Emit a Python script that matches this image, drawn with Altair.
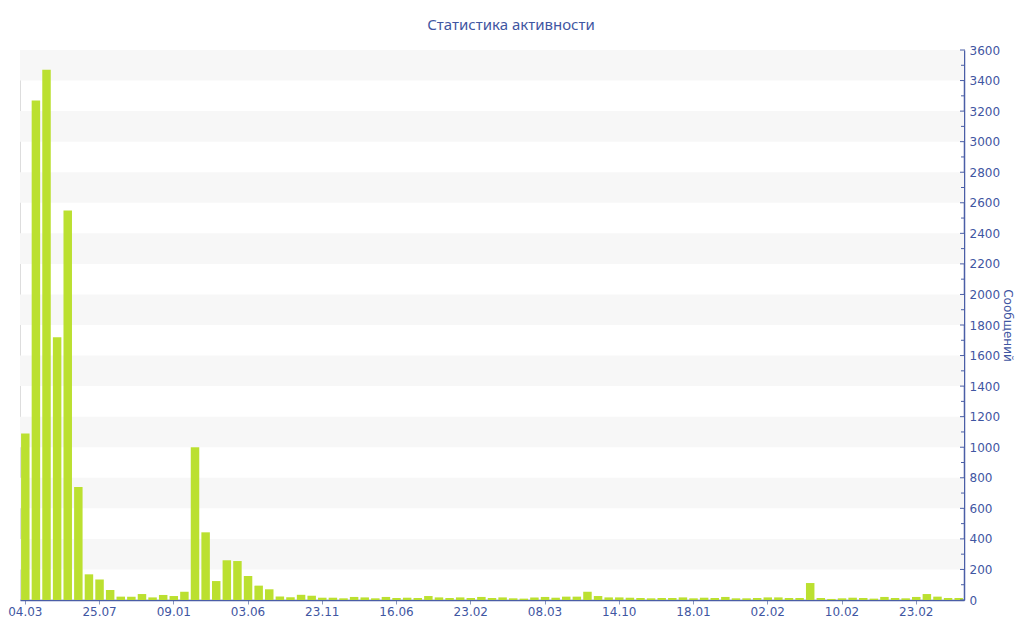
import json
import altair as alt
import pandas as pd

# Messages per period
values = [
    1090, 3270, 3470, 1720, 2550, 740, 168, 135, 65, 22, 22, 39, 17, 33,
    26, 54, 1000, 443, 124, 260, 255, 157, 94, 70, 23, 18, 34, 28,
    15, 15, 11, 20, 17, 11, 20, 13, 15, 13, 26, 17, 13, 17, 13, 20, 13, 17,
    11, 9, 17, 20, 15, 22, 22, 54, 26, 17, 17, 15, 13, 11, 13, 13, 17, 11, 15, 13, 20,
    11, 11, 13, 17, 17, 13, 13, 111, 13, 7, 11, 15, 13, 9, 20, 13, 11, 20, 39, 22, 13, 13,
]
tick_labels = ["04.03", "25.07", "09.01", "03.06", "23.11", "16.06", "23.02",
               "08.03", "14.10", "18.01", "02.02", "10.02", "23.02"]
label_every = 7
y_max = 3600
y_step = 200

TEXT = "#3f56a2"
LINE = "#4a5ea6"
BAR = "#bbe030"
BAND = "#f7f7f7"
FONT = "DejaVu Sans"
W, H = 944, 550

df = pd.DataFrame({"i": list(range(len(values))), "v": values})
bands_df = pd.DataFrame({
    "y0": list(range(y_step, y_max, 2 * y_step)),
    "y1": list(range(2 * y_step, y_max + 1, 2 * y_step)),
})
major_df = pd.DataFrame({"t": list(range(0, y_max + 1, y_step))})
minor_df = pd.DataFrame({"t": list(range(y_step // 2, y_max, y_step))})

yscale = alt.Scale(domain=[0, y_max], nice=False, zero=True)
yaxis = alt.Axis(
    orient="right",
    values=list(range(0, y_max + 1, y_step)),
    format="d",
    title="Сообщений",
    titleColor=TEXT,
    titleFont=FONT,
    titleFontSize=12,
    titleFontWeight="normal",
    titlePadding=1,
    ticks=False,
    grid=False,
    domainColor=LINE,
    domainWidth=1.5,
    labelColor=TEXT,
    labelFont=FONT,
    labelFontSize=12,
    labelPadding=5,
)
label_expr = json.dumps(tick_labels) + f"[datum.value / {label_every}]"

bands = alt.Chart(bands_df).mark_rect(color=BAND).encode(
    y=alt.Y("y0:Q", scale=yscale, axis=yaxis),
    y2="y1:Q",
    x=alt.value(0),
    x2=alt.value(W),
)

bars = alt.Chart(df).mark_bar(color=BAR).encode(
    x=alt.X(
        "i:O",
        scale=alt.Scale(paddingInner=0.2, paddingOuter=0.1),
        axis=alt.Axis(
            values=list(range(0, len(values), label_every)),
            labelExpr=label_expr,
            labelAngle=0,
            title=None,
            domainColor=LINE,
            domainWidth=1.5,
            tickColor="#8a97bd",
            tickSize=4,
            labelColor=TEXT,
            labelFont=FONT,
            labelFontSize=12,
            labelPadding=2,
            grid=False,
        ),
    ),
    y=alt.Y("v:Q", scale=yscale, axis=yaxis),
)

major = alt.Chart(major_df).mark_rule(color=LINE, strokeWidth=1).encode(
    y=alt.Y("t:Q", scale=yscale, axis=yaxis),
    x=alt.value(W - 4),
    x2=alt.value(W + 1),
)
minor = alt.Chart(minor_df).mark_rule(color=LINE, strokeWidth=1).encode(
    y=alt.Y("t:Q", scale=yscale, axis=yaxis),
    x=alt.value(W - 3),
    x2=alt.value(W),
)

chart = alt.layer(bands, bars, major, minor).properties(
    width=W,
    height=H,
    autosize=alt.AutoSizeParams(type="none"),
    padding={"left": 12, "top": 42, "right": 52, "bottom": 25},
    title=alt.TitleParams(
        "Статистика активности",
        font="Noto Sans",
        fontSize=15,
        fontWeight="normal",
        color=TEXT,
        anchor="middle",
        frame="group",
        baseline="bottom",
        offset=3,
        dx=19,
        dy=7,
    ),
).configure_view(stroke=None).configure(background="white")

chart.save("out.html", embed_options={"renderer": "svg", "actions": False})
